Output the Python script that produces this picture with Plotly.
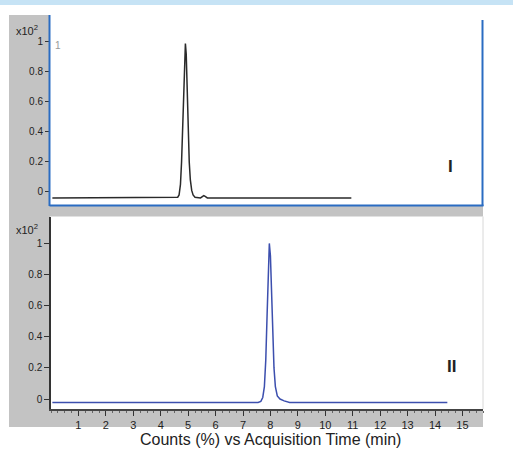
import plotly.graph_objects as go

# ---- data ----
time_I = [0.05, 4.55, 4.62, 4.67, 4.72, 4.76, 4.80, 4.84, 4.87, 4.90, 4.93, 4.96,
          5.00, 5.04, 5.08, 5.13, 5.18, 5.25, 5.45, 5.52, 5.57, 5.62, 5.70, 10.95]
counts_I = [-0.04, -0.04, -0.035, -0.02, 0.05, 0.2, 0.45, 0.72, 0.9, 0.99, 0.92, 0.72,
            0.42, 0.2, 0.08, 0.01, -0.02, -0.035, -0.04, -0.03, -0.025, -0.03, -0.04, -0.04]

time_II = [0.05, 7.55, 7.65, 7.72, 7.78, 7.83, 7.88, 7.92, 7.96, 8.00, 8.04, 8.08,
           8.13, 8.18, 8.25, 8.35, 8.50, 8.70, 14.45]
counts_II = [-0.022, -0.022, -0.015, 0.01, 0.08, 0.25, 0.55, 0.85, 1.0, 0.92, 0.68, 0.42,
             0.2, 0.08, 0.02, 0.0, -0.012, -0.022, -0.022]

x_ticks = list(range(1, 16))
y_ticks = [0, 0.2, 0.4, 0.6, 0.8, 1]
y_tick_text = ["0", "0.2", "0.4", "0.6", "0.8", "1"]
x_title = "Counts (%) vs Acquisition Time (min)"
panel_labels = ["I", "II"]

# ---- geometry (pixels -> paper) ----
W, H = 513, 456
L, R, T, B = 51, 30, 15, 47
PW, PH = W - L - R, H - T - B
def px(x): return (x - L) / PW
def py(y): return (H - B - y) / PH

top_dom = [py(205), 1.0]
bot_dom = [0.0, py(216.5)]

FONT = "Liberation Sans, Arial, sans-serif"

fig = go.Figure()
fig.add_trace(go.Scatter(x=time_I, y=counts_I, mode="lines", xaxis="x2", yaxis="y2",
                         line=dict(color="#2a2a2a", width=1.5), showlegend=False, hoverinfo="skip"))
fig.add_trace(go.Scatter(x=time_II, y=counts_II, mode="lines", xaxis="x", yaxis="y",
                         line=dict(color="#3c4fae", width=1.5), showlegend=False, hoverinfo="skip"))

shapes = [
    dict(type="rect", xref="paper", yref="paper", x0=px(0), x1=px(W), y0=py(5), y1=py(0),
         fillcolor="#c6e3f5", line=dict(width=0), layer="below"),
    dict(type="rect", xref="paper", yref="paper", x0=px(9), x1=px(483), y0=py(427), y1=py(15),
         fillcolor="#c3c3c3", line=dict(width=0), layer="below"),
    dict(type="rect", xref="paper", yref="paper", x0=px(50), x1=px(483), y0=top_dom[0], y1=top_dom[1],
         fillcolor="white", line=dict(width=0), layer="below"),
    dict(type="rect", xref="paper", yref="paper", x0=px(50), x1=px(483), y0=bot_dom[0], y1=bot_dom[1],
         fillcolor="white", line=dict(width=0), layer="below"),
    dict(type="line", xref="paper", yref="paper", x0=px(49.5), x1=px(49.5), y0=py(206), y1=py(15),
         line=dict(color="#2a6cc2", width=2)),
    dict(type="line", xref="paper", yref="paper", x0=px(482.5), x1=px(482.5), y0=py(206), y1=py(20),
         line=dict(color="#2a6cc2", width=2)),
    dict(type="line", xref="paper", yref="paper", x0=px(49.5), x1=px(483.5), y0=py(205.5), y1=py(205.5),
         line=dict(color="#2a6cc2", width=2)),
    dict(type="line", xref="paper", yref="paper", x0=px(483), x1=px(483), y0=0, y1=bot_dom[1],
         line=dict(color="#d8d8d8", width=1)),
]

def ann(text, x, y, size, color, xanchor="center"):
    return dict(text=text, xref="paper", yref="paper", x=px(x), y=py(y),
                xanchor=xanchor, yanchor="middle", showarrow=False,
                font=dict(size=size, color=color, family=FONT))

annotations = [
    ann("x10<sup>2</sup>", 27, 30, 11, "#222"),
    ann("x10<sup>2</sup>", 27, 229, 11, "#222"),
    ann("1", 53, 46, 10, "#999", xanchor="left"),
    ann("<b>" + panel_labels[0] + "</b>", 450, 166, 17, "#222"),
    ann("<b>" + panel_labels[1] + "</b>", 451, 366, 17, "#222"),
    ann(x_title, 270, 439, 16, "#222"),
]

yax_common = dict(tickvals=y_ticks, ticktext=y_tick_text, ticks="outside", ticklen=5,
                  tickcolor="#333", tickfont=dict(size=10, color="#222", family=FONT),
                  showgrid=False, zeroline=False)

fig.update_layout(
    width=W, height=H,
    margin=dict(l=L, r=R, t=T, b=B, pad=0),
    paper_bgcolor="white", plot_bgcolor="rgba(0,0,0,0)",
    shapes=shapes, annotations=annotations,
    xaxis=dict(domain=[0, 1], anchor="y", range=[0, 15.75], tickvals=x_ticks,
               ticks="outside", ticklen=5, tickcolor="#333", tickwidth=1,
               showline=True, linecolor="#444", linewidth=2,
               minor=dict(dtick=0.25, ticks="outside", ticklen=2, tickcolor="#666"),
               tickfont=dict(size=11, color="#222", family=FONT),
               showgrid=False, zeroline=False),
    xaxis2=dict(domain=[0, 1], anchor="y2", range=[0, 15.75], matches="x",
                showticklabels=False, ticks="", showline=False, showgrid=False, zeroline=False),
    yaxis=dict(domain=bot_dom, anchor="x", range=[-0.064, 1.173],
               showline=True, linecolor="#333", linewidth=1.5, **yax_common),
    yaxis2=dict(domain=top_dom, anchor="x2", range=[-0.087, 1.18],
                showline=False, **yax_common),
)

fig.write_html("out.html", config={"displayModeBar": False},
               post_script="document.body.style.margin='0';document.body.style.padding='0';")
